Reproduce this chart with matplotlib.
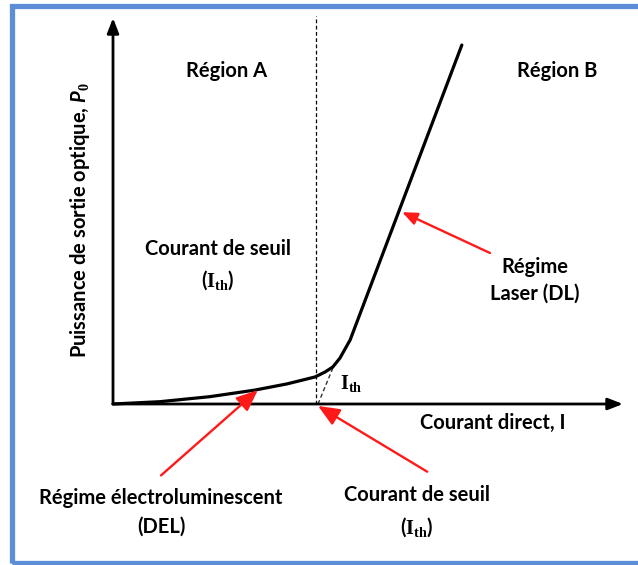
import matplotlib
matplotlib.use("Agg")
import matplotlib.pyplot as plt
from matplotlib.patches import Rectangle

plt.rcParams['font.family'] = ['Lato', 'DejaVu Sans']
plt.rcParams['mathtext.fontset'] = 'custom'
plt.rcParams['mathtext.bf'] = 'Liberation Serif:bold'
plt.rcParams['mathtext.rm'] = 'Liberation Serif:bold'
plt.rcParams['mathtext.it'] = 'Lato:italic:bold'

# courant direct I (u.a.) et puissance optique P0 (u.a.)
courant = [0, 0.92, 1.90, 2.78, 3.41, 3.96, 4.16, 4.31, 4.45, 4.65, 6.84]
puissance = [0, 0.06, 0.19, 0.36, 0.52, 0.70, 0.83, 0.96, 1.19, 1.66, 9.30]
i_seuil = 3.98
tangente_i = [4.02, 4.31]
tangente_p = [0.0, 0.93]
pt_del = (2.84, 0.36)     # point vise par la fleche DEL
pt_laser = (5.67, 4.97)   # point vise par la fleche laser

W, H = 638, 565
fig = plt.figure(figsize=(W / 100, H / 100), dpi=100)
fig.patch.set_facecolor('white')

def px(x, y):
    return (x / W, 1 - y / H)

# cadre bleu
fig.patches.append(Rectangle(px(12, 563), (650 - 12) / W, (563 - 6) / H,
                             transform=fig.transFigure, fill=False,
                             edgecolor='#5b8ed6', lw=3.8, clip_on=False))

ax = fig.add_axes([113 / W, 1 - 404 / H, (623 - 113) / W, (404 - 18) / H])
ax.set_xlim(0, 10)
ax.set_ylim(0, 10)
ax.axis('off')

# axes avec fleches
ax.annotate('', xy=(1, 0), xytext=(0, 0), xycoords='axes fraction',
            arrowprops=dict(arrowstyle='-|>,head_length=0.9,head_width=0.35',
                            color='black', lw=2, shrinkA=0, shrinkB=0))
ax.annotate('', xy=(0, 1), xytext=(0, 0), xycoords='axes fraction',
            arrowprops=dict(arrowstyle='-|>,head_length=0.9,head_width=0.35',
                            color='black', lw=2, shrinkA=0, shrinkB=0))

ax.plot([i_seuil, i_seuil], [0, 10.05], color='black', lw=0.9, ls=(0, (3, 2)), clip_on=False)
ax.plot(tangente_i, tangente_p, color='#333333', lw=1, ls=(0, (3, 2)), clip_on=False)
ax.plot(courant, puissance, color='black', lw=2.3, solid_joinstyle='round',
        solid_capstyle='round', clip_on=False)

fs = 14.5
txt = dict(fontsize=fs, fontweight='bold', ha='center', va='center',
           transform=fig.transFigure, color='black')
fig.text(*px(227, 71), 'Région A', **txt)
fig.text(*px(557, 71), 'Région B', **txt)
fig.text(*px(218, 249), 'Courant de seuil', **txt)
fig.text(*px(218, 280), r'($\mathbf{I_{th}}$)', **txt)
fig.text(*px(535, 267), 'Régime', **txt)
fig.text(*px(535, 294), 'Laser (DL)', **txt)
fig.text(*px(493, 423), 'Courant direct, I', **txt)
fig.text(*px(351, 384), r'$\mathbf{I_{th}}$', **txt)
fig.text(*px(80, 220), r'Puissance de sortie optique, $P_0$', rotation=90, **txt)

fleche = dict(arrowstyle='-|>,head_length=0.9,head_width=0.38', color='#ff1a1a',
              lw=1.7, shrinkA=0, shrinkB=0)
ax.annotate('Régime électroluminescent\n(DEL)', xy=pt_del, xytext=px(161, 512),
            textcoords='figure fraction', ha='center', va='center',
            fontsize=fs, fontweight='bold', color='black', linespacing=1.55,
            arrowprops=dict(fleche, relpos=(0.5, 1.25)))
ax.annotate(r'Courant de seuil' '\n' r'($\mathbf{I_{th}}$)', xy=(tangente_i[0], -0.05),
            xytext=px(417, 512), textcoords='figure fraction', ha='center', va='center',
            fontsize=fs, fontweight='bold', color='black', linespacing=1.55,
            annotation_clip=False,
            arrowprops=dict(fleche, relpos=(0.57, 1.25)))
ax.annotate('', xy=pt_laser, xytext=px(490, 253), textcoords='figure fraction',
            arrowprops=fleche)

fig.savefig('out.png', dpi=100, facecolor='white')
